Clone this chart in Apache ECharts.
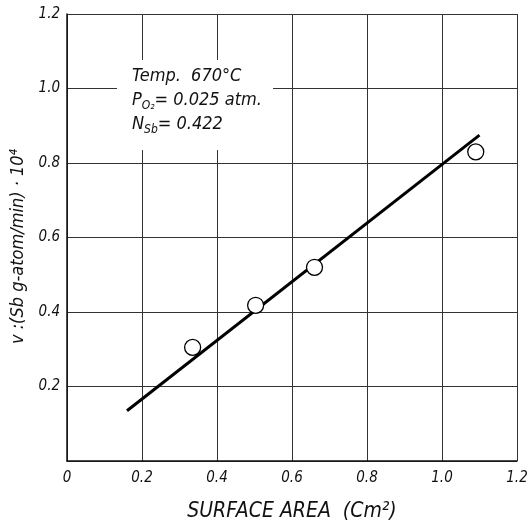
<!DOCTYPE html>
<html>
<head>
<meta charset="utf-8">
<script src="https://cdn.jsdelivr.net/npm/echarts@6/dist/echarts.min.js"></script>
<style>
  html, body { margin: 0; padding: 0; background: #fff; }
  #main { width: 527px; height: 524px; }
</style>
</head>
<body>
<div id="main"></div>
<script>
// measured points (surface area, rate)
var areaPts = [0.335, 0.503, 0.66, 1.09];
var ratePts = [0.305, 0.418, 0.52, 0.83];
// fitted straight line, end points
var lineX = [0.16, 1.1];
var lineY = [0.135, 0.875];
var xTicks = [0, 0.2, 0.4, 0.6, 0.8, 1.0, 1.2];
var yTicks = [0, 0.2, 0.4, 0.6, 0.8, 1.0, 1.2];

var font = '"DejaVu Sans Condensed", "DejaVu Sans", sans-serif';

var myChart = echarts.init(document.getElementById('main'));

var option = {
    backgroundColor: '#fff',
    animation: false,
    grid: {
        left: 67,
        right: 10,
        top: 14,
        bottom: 63,
        outerBoundsMode: 'none'
    },
    xAxis: {
        type: 'value',
        min: 0,
        max: 1.2,
        interval: 0.2,
        name: 'SURFACE AREA  (Cm²)',
        nameLocation: 'middle',
        nameGap: 40,
        nameTextStyle: { fontFamily: font, fontStyle: 'italic', fontSize: 21, color: '#111' },
        axisLine: { lineStyle: { color: '#111', width: 1.5 } },
        axisTick: { show: false },
        splitLine: { show: true, lineStyle: { color: '#333', width: 1 } },
        axisLabel: {
            fontFamily: font, fontStyle: 'italic', fontSize: 15, color: '#111', margin: 10,
            formatter: function (v) {
                if (v === 0) return '0';
                return xTicks.indexOf(v) >= 0 ? v.toFixed(1) : '';
            }
        }
    },
    yAxis: {
        type: 'value',
        min: 0,
        max: 1.2,
        interval: 0.2,
        name: 'v :(Sb g-atom/min) · 10⁴',
        nameLocation: 'middle',
        nameGap: 40,
        nameRotate: 90,
        nameTextStyle: { fontFamily: font, fontStyle: 'italic', fontSize: 18, color: '#111', padding: [0, 18, 0, 0] },
        axisLine: { show: true, lineStyle: { color: '#111', width: 1.5 } },
        axisTick: { show: false },
        splitLine: { show: true, lineStyle: { color: '#333', width: 1 } },
        axisLabel: {
            fontFamily: font, fontStyle: 'italic', fontSize: 15, color: '#111', margin: 7,
            formatter: function (v) {
                if (v === 0) return '';
                return yTicks.indexOf(v) >= 0 ? v.toFixed(1) : '';
            }
        }
    },
    graphic: [
        {
            type: 'rect',
            left: 117,
            top: 60,
            shape: { width: 156, height: 90 },
            style: { fill: '#fff' },
            z: 50
        },
        {
            type: 'text',
            left: 132,
            top: 67,
            z: 51,
            style: {
                text: '{a|Temp.  670°C}\n{a|P}{s|O₂}{a|= 0.025 atm.}\n{a|N}{s|Sb}{a|= 0.422}',
                fontFamily: font,
                fontStyle: 'italic',
                fill: '#111',
                rich: {
                    a: { fontSize: 18, fontFamily: font, fontStyle: 'italic', lineHeight: 24, fill: '#111' },
                    s: { fontSize: 12, fontFamily: font, fontStyle: 'italic', lineHeight: 24, verticalAlign: 'bottom', padding: [10, 0, 0, 0], fill: '#111' }
                }
            }
        }
    ],
    series: [
        {
            type: 'line',
            data: lineX.map(function (x, i) { return [x, lineY[i]]; }),
            symbol: 'none',
            lineStyle: { color: '#000', width: 3 },
            z: 3
        },
        {
            type: 'scatter',
            data: areaPts.map(function (x, i) { return [x, ratePts[i]]; }),
            symbol: 'circle',
            symbolSize: 16,
            itemStyle: { color: '#fff', borderColor: '#000', borderWidth: 1.3, opacity: 1 },
            z: 4
        }
    ]
};
myChart.setOption(option);
</script>
</body>
</html>
